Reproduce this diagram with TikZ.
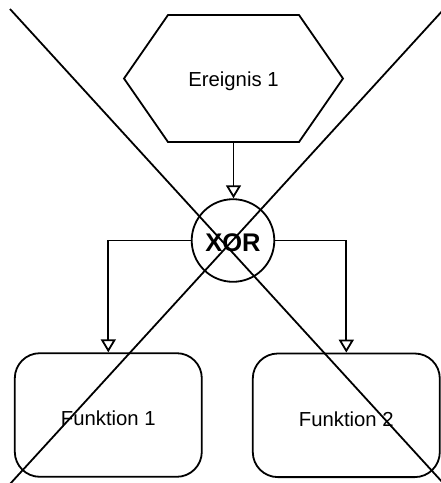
\documentclass[tikz,border=0pt]{standalone}
\usepackage{fontspec}
\setmainfont{Liberation Sans}
\usetikzlibrary{arrows.meta}
\begin{document}
\begin{tikzpicture}[x=1pt, y=-1pt, line width=1.8pt,
  txt/.style={font=\fontsize{20.3}{24}\selectfont, inner sep=0pt, text depth=0pt},
  hexbox/.style={txt, outer sep=0pt, minimum width=219pt, minimum height=127pt, text height=15pt},
  gate/.style={draw, circle, inner sep=0pt, minimum size=82.6pt,
    font=\fontsize{25.5}{28}\selectfont\bfseries, text height=22.4pt, text depth=0pt},
  func/.style={txt, draw, rectangle, rounded corners=25pt, minimum width=187pt,
    minimum height=123.6pt, text height=21.4pt},
  flow/.style={-{Triangle[length=13pt, width=15pt, fill=white]}},
  strike/.style={line width=1.8pt}]
\useasboundingbox (0,0) rectangle (441,483);

% event (hexagon)
\node[hexbox] (ev) at (233.5,78.5) {Ereignis 1};
\draw (ev.west) -- ([xshift=44pt]ev.north west) -- ([xshift=-44pt]ev.north east)
  -- (ev.east) -- ([xshift=-44pt]ev.south east) -- ([xshift=44pt]ev.south west) -- cycle;

% connector
\node[gate] (xor) at (233,240.5) {XOR};

% functions
\node[func] (f1) at (108.3,415) {Funktion 1};
\node[func] (f2) at (346.3,415.3) {Funktion 2};

% control flow
\draw[flow] (ev.south) -- (ev.south |- xor.north);
\draw[flow] (xor.west) -| (f1.north);
\draw[flow] (xor.east) -| (f2.north);

% crossing-out lines
\coordinate (c1) at (10,9);
\coordinate (c2) at (444,484);
\coordinate (c3) at (10,484);
\coordinate (c4) at (444,9);
\begin{scope}
  \clip (0,0) rectangle (441,483);
  \draw[strike] (c1) -- (c2);
  \draw[strike] (c3) -- (c4);
\end{scope}
\end{tikzpicture}
\end{document}
